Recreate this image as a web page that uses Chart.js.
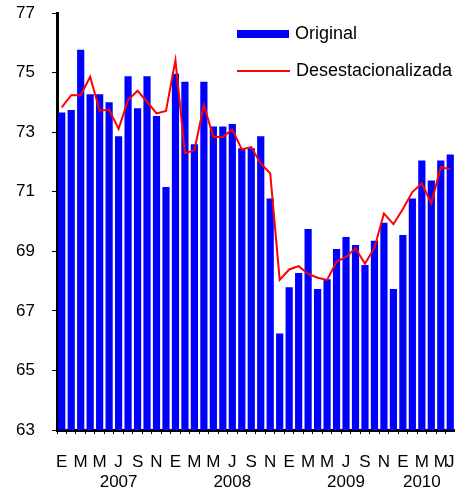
<!DOCTYPE html>
<html>
<head>
<meta charset="utf-8">
<script src="https://cdn.jsdelivr.net/npm/chart.js@4"></script>
<style>
  body { margin: 0; background: #fff; }
  #wrap { position: relative; width: 455px; height: 491px; }
  .leg { position: absolute; left: 237px; font: 18px "Liberation Sans", Arial, sans-serif; color: #000; white-space: nowrap; }
  .leg span { display: inline-block; vertical-align: middle; margin-right: 6px; }
</style>
</head>
<body>
<div id="wrap">
  <canvas id="chart" width="455" height="491"></canvas>
  <div class="leg" style="top:23px"><span style="width:52px;height:8px;background:#0000ff"></span>Original</div>
  <div class="leg" style="top:60px"><span style="width:53px;height:2px;background:#ff0000"></span>Desestacionalizada</div>
</div>
<script>
// Tasa mensual, enero 2007 - junio 2010
const categories = [
  'ene-07','feb-07','mar-07','abr-07','may-07','jun-07','jul-07','ago-07','sep-07','oct-07','nov-07','dic-07',
  'ene-08','feb-08','mar-08','abr-08','may-08','jun-08','jul-08','ago-08','sep-08','oct-08','nov-08','dic-08',
  'ene-09','feb-09','mar-09','abr-09','may-09','jun-09','jul-09','ago-09','sep-09','oct-09','nov-09','dic-09',
  'ene-10','feb-10','mar-10','abr-10','may-10','jun-10'
];

const original = [
  73.66, 73.74, 75.77, 74.27, 74.27, 74.00, 72.86, 74.88, 73.80, 74.88, 73.54, 71.16,
  74.96, 74.69, 72.59, 74.69, 73.19, 73.19, 73.27, 72.46, 72.46, 72.86, 70.77, 66.24,
  67.79, 68.27, 69.75, 67.73, 68.06, 69.08, 69.48, 69.21, 68.54, 69.35, 69.96, 67.73,
  69.55, 70.77, 72.05, 71.38, 72.05, 72.25
];

const desestacionalizada = [
  73.83, 74.24, 74.24, 74.86, 73.72, 73.76, 73.11, 74.08, 74.39, 74.02, 73.63, 73.71,
  75.41, 72.29, 72.39, 73.91, 72.84, 72.84, 73.09, 72.42, 72.50, 71.94, 71.62, 68.04,
  68.39, 68.50, 68.24, 68.11, 68.04, 68.65, 68.81, 69.10, 68.58, 69.12, 70.27, 69.91,
  70.42, 70.99, 71.28, 70.61, 71.83, 71.75
];

// etiquetas del eje x (mes y año)
const monthTicks = [
  'E','','M','','M','','J','','S','','N','',
  'E','','M','','M','','J','','S','','N','',
  'E','','M','','M','','J','','S','','N','',
  'E','','M','','M','J'
];
const yearTicks = [
  '','','','','','','2007','','','','','',
  '','','','','','','2008','','','','','',
  '','','','','','','2009','','','','','',
  '','','2010','','',''
];

const yTicks = [63, 65, 67, 69, 71, 73, 75, 77];

const font = { family: '"Liberation Sans", Arial, sans-serif', size: 17 };

new Chart(document.getElementById('chart').getContext('2d'), {
  type: 'bar',
  data: {
    labels: categories,
    datasets: [
      {
        type: 'line',
        label: 'Desestacionalizada',
        data: desestacionalizada,
        borderColor: '#ff0000',
        borderWidth: 2,
        pointRadius: 0,
        tension: 0,
        order: 0
      },
      {
        label: 'Original',
        data: original,
        backgroundColor: '#0000ff',
        categoryPercentage: 1,
        barPercentage: 0.76,
        order: 1
      }
    ]
  },
  options: {
    responsive: false,
    animation: false,
    layout: { padding: { top: 13, right: 0, left: 0, bottom: 0 } },
    plugins: { legend: { display: false }, tooltip: { enabled: false } },
    scales: {
      x: {
        z: 1,
        afterFit: function(scale) {
          scale.height = 61;
          scale.paddingLeft = 0;
          scale.paddingRight = 0;
        },
        grid: { drawOnChartArea: false, drawTicks: true, tickLength: 4, color: '#000', offset: true },
        border: { color: '#000', width: 3 },
        ticks: {
          autoSkip: false, maxRotation: 0, minRotation: 0, padding: 18,
          color: '#000', font: font,
          callback: function(value, index) {
            return yearTicks[index] ? [monthTicks[index], yearTicks[index]] : monthTicks[index];
          }
        }
      },
      y: {
        z: 1,
        min: yTicks[0],
        max: yTicks[yTicks.length - 1],
        afterFit: function(scale) {
          scale.width = 57;
          scale.paddingTop = 0;
          scale.paddingBottom = 0;
        },
        afterBuildTicks: function(scale) { scale.ticks = yTicks.map(v => ({ value: v })); },
        grid: { drawOnChartArea: false, drawTicks: true, tickLength: 5, color: '#000' },
        border: { color: '#000', width: 3 },
        ticks: { padding: 17, color: '#000', font: font }
      }
    }
  }
});
</script>
</body>
</html>
